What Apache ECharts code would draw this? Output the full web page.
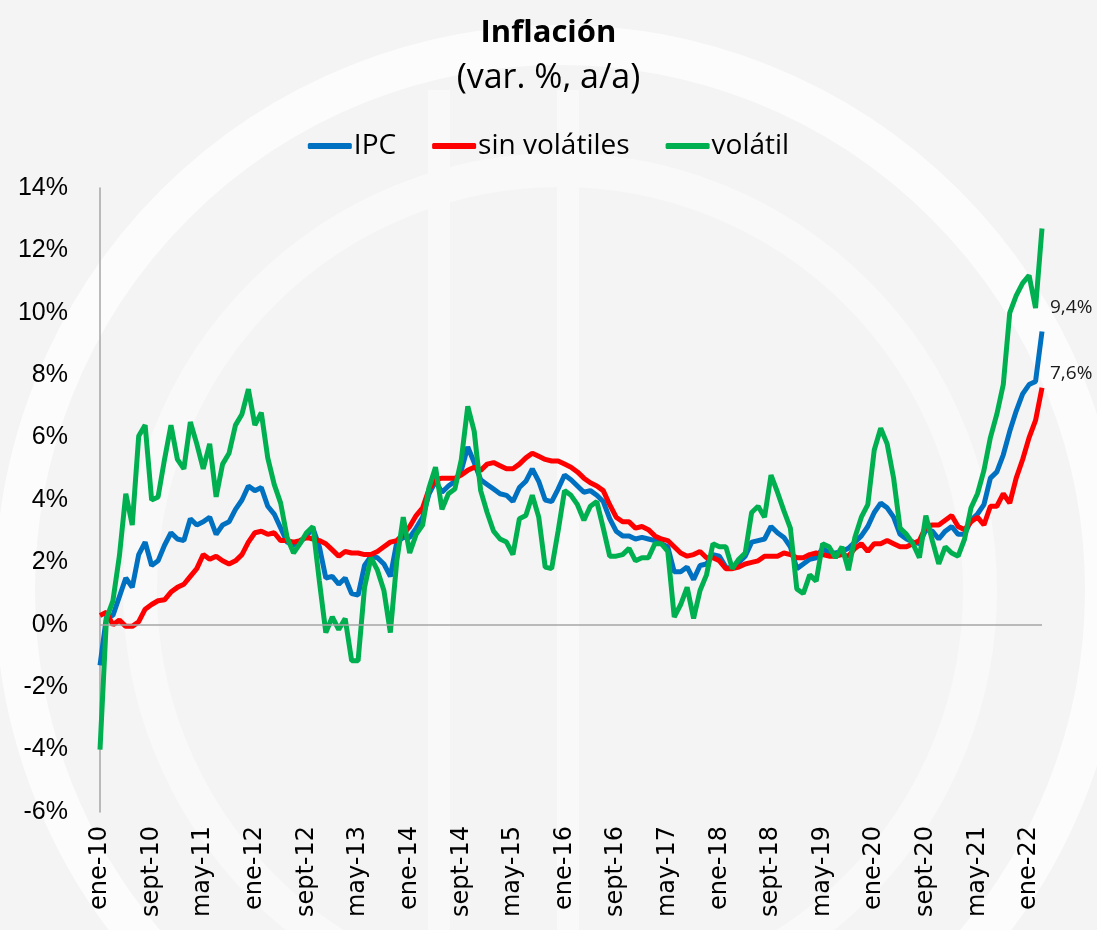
<!DOCTYPE html>
<html>
<head>
<meta charset="utf-8">
<script src="https://cdn.jsdelivr.net/npm/echarts@6/dist/echarts.min.js"></script>
<style>
html,body{margin:0;padding:0;}
#chartInflacion{width:1097px;height:930px;}
</style>
</head>
<body>
<div id="chartInflacion"></div>
<script>
// meses (ene-10 .. mar-22)
var meses = ['ene','feb','mar','abr','may','jun','jul','ago','sept','oct','nov','dic'];
var fechas = [];
for (var i = 0; i < 147; i++) {
	fechas.push(meses[i % 12] + '-' + (10 + Math.floor(i / 12)));
}

// IPC, var. % a/a
var ipc = [
	-1.3, 0.25, 0.3, 0.9, 1.5, 1.2, 2.25, 2.65, 1.9, 2.05, 2.55, 2.95,
	2.75, 2.7, 3.4, 3.2, 3.3, 3.45, 2.9, 3.2, 3.3, 3.7, 4.0, 4.45,
	4.3, 4.4, 3.8, 3.55, 3.1, 2.65, 2.55, 2.65, 2.85, 3.1, 2.5, 1.5,
	1.55, 1.3, 1.5, 1.0, 0.95, 1.9, 2.2, 2.15, 1.95, 1.55, 2.65, 2.8,
	2.8, 3.1, 3.45, 4.2, 4.6, 4.25, 4.45, 4.6, 4.95, 5.7, 5.2, 4.65,
	4.5, 4.35, 4.2, 4.15, 3.95, 4.4, 4.6, 5.0, 4.6, 4.0, 3.95, 4.35,
	4.8, 4.65, 4.45, 4.25, 4.3, 4.15, 3.95, 3.4, 3.0, 2.85, 2.85, 2.75,
	2.8, 2.75, 2.7, 2.6, 2.5, 1.7, 1.7, 1.85, 1.45, 1.9, 1.95, 2.25,
	2.2, 1.85, 1.8, 2.0, 2.2, 2.65, 2.7, 2.75, 3.15, 2.95, 2.8, 2.5,
	1.8, 1.95, 2.1, 2.15, 2.45, 2.3, 2.3, 2.35, 2.45, 2.65, 2.85, 3.15,
	3.6, 3.9, 3.75, 3.45, 2.9, 2.75, 2.65, 2.6, 3.05, 3.0, 2.75, 3.0,
	3.15, 2.9, 2.9, 3.35, 3.55, 3.85, 4.7, 4.9, 5.45, 6.2, 6.85, 7.4,
	7.7, 7.8, 9.4
];

// sin volátiles
var sinVolatiles = [
	0.3, 0.4, 0.0, 0.15, -0.05, -0.05, 0.1, 0.5, 0.65, 0.77, 0.8, 1.05,
	1.2, 1.3, 1.55, 1.8, 2.25, 2.1, 2.2, 2.05, 1.95, 2.05, 2.25, 2.65,
	2.95, 3.0, 2.9, 2.95, 2.7, 2.7, 2.65, 2.7, 2.8, 2.75, 2.7, 2.6,
	2.4, 2.2, 2.35, 2.3, 2.3, 2.25, 2.25, 2.35, 2.5, 2.65, 2.7, 2.9,
	3.15, 3.5, 3.75, 4.35, 4.65, 4.7, 4.7, 4.7, 4.8, 4.95, 5.05, 4.95,
	5.15, 5.2, 5.1, 5.0, 5.0, 5.15, 5.35, 5.5, 5.4, 5.3, 5.25, 5.25,
	5.15, 5.05, 4.9, 4.7, 4.55, 4.45, 4.3, 3.85, 3.45, 3.3, 3.3, 3.1,
	3.15, 3.05, 2.85, 2.75, 2.7, 2.5, 2.3, 2.2, 2.25, 2.35, 2.15, 2.15,
	2.05, 1.8, 1.8, 1.85, 1.95, 2.0, 2.05, 2.2, 2.2, 2.2, 2.3, 2.25,
	2.15, 2.15, 2.25, 2.3, 2.25, 2.2, 2.2, 2.25, 2.2, 2.45, 2.6, 2.35,
	2.6, 2.6, 2.7, 2.6, 2.5, 2.5, 2.6, 2.7, 3.15, 3.2, 3.2, 3.35,
	3.5, 3.15, 3.05, 3.3, 3.45, 3.2, 3.8, 3.8, 4.2, 3.9, 4.7, 5.3,
	6.0, 6.55, 7.6
];

// volátil
var volatil = [
	-4.0, 0.2, 0.77, 2.2, 4.2, 3.2, 6.05, 6.4, 4.0, 4.1, 5.3, 6.4,
	5.3, 5.0, 6.5, 5.8, 5.0, 5.8, 4.1, 5.15, 5.5, 6.4, 6.75, 7.55,
	6.4, 6.8, 5.35, 4.5, 3.9, 2.8, 2.3, 2.6, 2.95, 3.15, 1.4, -0.25,
	0.25, -0.15, 0.2, -1.15, -1.15, 1.2, 2.15, 1.75, 1.1, -0.25, 2.05, 3.45,
	2.3, 2.9, 3.2, 4.4, 5.05, 3.7, 4.2, 4.35, 5.3, 7.0, 6.2, 4.3,
	3.6, 3.0, 2.75, 2.65, 2.25, 3.4, 3.5, 4.15, 3.45, 1.85, 1.8, 3.0,
	4.3, 4.15, 3.85, 3.35, 3.8, 3.95, 3.1, 2.2, 2.2, 2.25, 2.45, 2.05,
	2.15, 2.15, 2.6, 2.6, 2.35, 0.25, 0.65, 1.2, 0.2, 1.1, 1.6, 2.6,
	2.5, 2.5, 1.8, 2.1, 2.3, 3.6, 3.8, 3.45, 4.8, 4.25, 3.65, 3.1,
	1.15, 1.0, 1.6, 1.4, 2.6, 2.5, 2.15, 2.5, 1.75, 2.8, 3.45, 3.85,
	5.6, 6.3, 5.8, 4.7, 3.1, 2.9, 2.6, 2.15, 3.5, 2.7, 1.95, 2.5,
	2.3, 2.2, 2.75, 3.75, 4.2, 4.95, 6.0, 6.75, 7.7, 10.0, 10.55, 10.95,
	11.2, 10.15, 12.7
];

var ejeY = { min: -6, max: 14, interval: 2 };

function etiquetaFinal(p) {
	return p.value.toFixed(1).replace('.', ',') + '%';
}

var myChart = echarts.init(document.getElementById('chartInflacion'));

var option = {
	backgroundColor: '#f4f4f4',
	// marca de agua de fondo (aprox.)
	graphic: [
		{ type: 'circle', z: -10, silent: true, shape: { cx: 560, cy: 590, r: 545 }, style: { fill: 'none', stroke: '#fcfcfc', lineWidth: 40 } },
		{ type: 'circle', z: -10, silent: true, shape: { cx: 560, cy: 590, r: 420 }, style: { fill: 'none', stroke: '#f9f9f9', lineWidth: 34 } },
		{ type: 'rect', z: -10, silent: true, shape: { x: 428, y: 90, width: 22, height: 840 }, style: { fill: '#f9f9f9' } },
		{ type: 'rect', z: -10, silent: true, shape: { x: 557, y: 90, width: 22, height: 840 }, style: { fill: '#f9f9f9' } }
	],
	title: {
		text: 'Inflación',
		subtext: '(var. %, a/a)',
		left: 'center',
		top: 13,
		itemGap: 12,
		textStyle: { fontFamily: 'Open Sans', fontWeight: 'bold', fontSize: 31, color: '#000' },
		subtextStyle: { fontFamily: 'Open Sans', fontSize: 34, color: '#000' }
	},
	legend: {
		data: ['IPC', 'sin volátiles', 'volátil'],
		top: 127,
		left: 'center',
		icon: 'roundRect',
		itemWidth: 44,
		itemHeight: 6,
		itemGap: 36,
		textStyle: { fontFamily: 'Open Sans', fontSize: 28, color: '#000', padding: [0, 0, 0, -3] }
	},
	grid: {
		left: 100,
		right: 55,
		top: 188,
		bottom: 118
	},
	xAxis: {
		type: 'category',
		data: fechas,
		boundaryGap: false,
		axisLine: { show: false, onZero: false },
		axisTick: { show: false },
		axisLabel: {
			interval: 7,
			rotate: 90,
			margin: 14,
			fontFamily: 'DejaVu Sans',
			fontSize: 24,
			color: '#000'
		}
	},
	yAxis: {
		type: 'value',
		min: ejeY.min,
		max: ejeY.max,
		interval: ejeY.interval,
		axisLine: { show: true, lineStyle: { color: '#a6a6a6', width: 1.5 } },
		axisTick: { show: false },
		splitLine: { show: false },
		axisLabel: {
			margin: 32,
			fontFamily: 'Liberation Sans',
			fontSize: 25,
			color: '#000',
			formatter: function (v) { return v + '%'; }
		}
	},
	series: [
		{
			name: 'IPC',
			type: 'line',
			data: ipc,
			symbol: 'none',
			lineStyle: { color: '#0070c0', width: 5 },
			itemStyle: { color: '#0070c0' },
			endLabel: { show: true, formatter: etiquetaFinal, offset: [0, -24], fontFamily: 'Open Sans', fontSize: 19, color: '#1a1a1a' },
			markLine: {
				silent: true,
				symbol: 'none',
				label: { show: false },
				lineStyle: { color: '#a6a6a6', width: 1.5, type: 'solid' },
				data: [{ yAxis: 0 }]
			}
		},
		{
			name: 'sin volátiles',
			type: 'line',
			data: sinVolatiles,
			symbol: 'none',
			lineStyle: { color: '#ff0000', width: 5 },
			itemStyle: { color: '#ff0000' },
			endLabel: { show: true, formatter: etiquetaFinal, offset: [0, -14], fontFamily: 'Open Sans', fontSize: 19, color: '#1a1a1a' }
		},
		{
			name: 'volátil',
			type: 'line',
			data: volatil,
			symbol: 'none',
			lineStyle: { color: '#00b050', width: 5 },
			itemStyle: { color: '#00b050' }
		}
	]
};
myChart.setOption(option);
</script>
</body>
</html>
